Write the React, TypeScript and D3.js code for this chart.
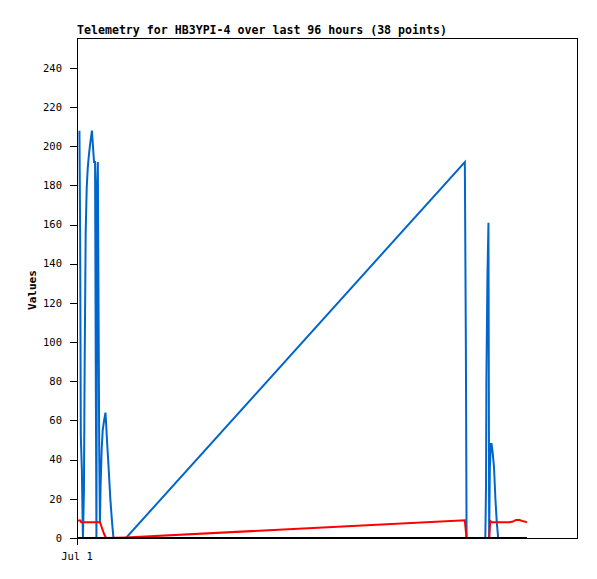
import React from "react";
import * as d3 from "d3";

// minutes after Jul 1 00:00 and values
const blueMinutes = [7, 9, 11, 14, 17, 20, 22, 25, 28, 31, 34, 37, 40, 43, 46, 49, 52, 54, 56, 58, 60, 62, 64, 66, 68, 71, 74, 78, 82, 84, 87, 91, 96, 101, 105, 141, 1117, 1120, 1122, 1176, 1178, 1179, 1182, 1185, 1187, 1189, 1192, 1194, 1197, 1201, 1205, 1209, 1213, 1296];
const blueValues = [208, 156, 52, 35, 0, 24, 88, 156, 179, 189, 195, 200, 204, 208, 200, 192, 192, 88, 0, 182, 192, 119, 45, 8, 27, 45, 55, 60, 64, 58, 48, 36, 20, 8, 0, 0, 192, 96, 0, 0, 27, 80, 133, 161, 0, 36, 48, 48, 44, 36, 20, 8, 0, 0];

const redMinutes = [3, 10, 12, 66, 71, 78, 84, 141, 1117, 1119, 1122, 1187, 1190, 1193, 1245, 1256, 1264, 1275, 1285, 1296];
const redValues = [8.9, 8.9, 8.1, 8.1, 5.6, 2, 0, 0.3, 9.0, 5, 0, 0, 8.7, 8.1, 8.1, 8.4, 9.2, 9.2, 8.5, 8.1];

const blackMinutes = [3, 1296];
const blackValues = [0, 0];

const yTicks = [0, 20, 40, 60, 80, 100, 120, 140, 160, 180, 200, 220, 240];
const title = "Telemetry for HB3YPI-4 over last 96 hours (38 points)";
const yLabel = "Values";

const W = 597, H = 579;
const M = { left: 77, right: 577, top: 38, bottom: 538 };
const start = new Date(2024, 6, 1, 0, 0);
const toDate = (m: number) => new Date(start.getTime() + m * 60000);

export default function App() {
  const x = d3.scaleTime().domain([start, new Date(2024, 6, 2, 0, 0)]).range([M.left, M.right]);
  const y = d3.scaleLinear().domain([0, 255.3]).range([M.bottom, M.top]);
  const line = d3.line<[number, number]>().x(d => x(toDate(d[0]))).y(d => y(d[1]));
  const mk = (ms: number[], vs: number[]) => line(ms.map((m, i) => [m, vs[i]] as [number, number])) || "";
  const mono = "'DejaVu Sans Mono', 'Liberation Mono', monospace";
  const fmt = d3.timeFormat("%b %-d");
  return (
    <svg width={W} height={H} style={{ position: "absolute", left: 0, top: 0, background: "#fff" }}>
      <rect x={0} y={0} width={W} height={H} fill="#fff" />
      <text x={M.left} y={34} fontFamily={mono} fontWeight="bold" fontSize={11.6} fill="#000">{title}</text>
      <rect x={M.left} y={M.top} width={M.right - M.left} height={M.bottom - M.top} fill="none" stroke="#000" strokeWidth={1} shapeRendering="crispEdges" />
      {yTicks.map(t => (
        <g key={t}>
          <line x1={M.left - 7} x2={M.left} y1={Math.round(y(t)) + 0.5} y2={Math.round(y(t)) + 0.5} stroke="#000" />
          <text x={62} y={y(t)} dy="0.35em" textAnchor="end" fontFamily={mono} fontSize={10.5} fill="#000">{t}</text>
        </g>
      ))}
      <line x1={M.left + 0.5} x2={M.left + 0.5} y1={M.bottom} y2={M.bottom + 7} stroke="#000" />
      <text x={x(start)} y={560} textAnchor="middle" fontFamily={mono} fontSize={10.5} fill="#000">{fmt(start)}</text>
      <text transform={`translate(36,290) rotate(-90)`} textAnchor="middle" fontFamily={mono} fontWeight="bold" fontSize={11} fill="#000">{yLabel}</text>
      <path d={mk(blueMinutes, blueValues)} fill="none" stroke="#0066cc" strokeWidth={2} />
      <path d={mk(redMinutes, redValues)} fill="none" stroke="#ff0000" strokeWidth={2} />
      <path d={mk(blackMinutes, blackValues)} fill="none" stroke="#000" strokeWidth={2} />
    </svg>
  );
}
